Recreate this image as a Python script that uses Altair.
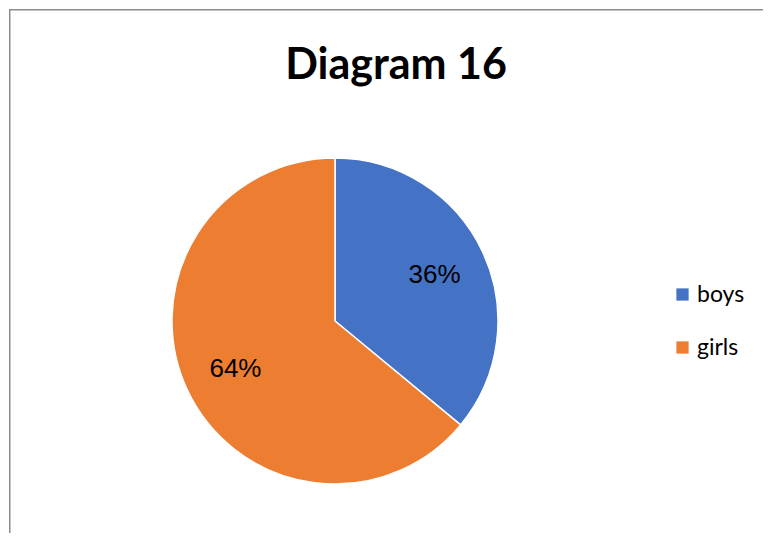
import altair as alt
import pandas as pd

categories = ["boys", "girls"]
shares = [36, 64]
labels = ["36%", "64%"]
colors = ["#4472C4", "#ED7D31"]
title_text = ["Diagram 16"]

W, H = 755, 525
CX, CY, R = 326, 312, 163

df = pd.DataFrame({"gender": categories, "share": shares, "label": labels})

color_enc = alt.Color(
    "gender:N",
    scale=alt.Scale(domain=categories, range=colors),
    legend=alt.Legend(
        title=None, orient="none", legendX=662, legendY=274,
        symbolType="square", symbolSize=150, symbolStrokeWidth=0,
        labelFontSize=23, labelFont="Lato", labelColor="black",
        rowPadding=29, labelOffset=3,
    ),
)

base = alt.Chart(df).encode(
    theta=alt.Theta("share:Q", stack=True),
    order=alt.Order("gender:N", sort="ascending"),
)

pie = base.mark_arc(radius=R, stroke="white", strokeWidth=1.5).encode(
    color=color_enc, x=alt.value(CX), y=alt.value(CY)
)

text = base.mark_text(radius=110, fontSize=26, font="Liberation Sans", color="black").encode(
    text="label:N", detail="gender:N", x=alt.value(CX), y=alt.value(CY + 1)
)

frame_df = pd.DataFrame({"k": [0]})
left_rule = alt.Chart(frame_df).mark_rule(color="#8c8c8c", strokeWidth=1.5).encode(
    x=alt.value(0.75), y=alt.value(0), y2=alt.value(H)
)
top_rule = alt.Chart(frame_df).mark_rule(color="#8c8c8c", strokeWidth=1.5).encode(
    x=alt.value(0), x2=alt.value(W), y=alt.value(0.75)
)

title = alt.Chart(pd.DataFrame({"t": title_text})).mark_text(
    fontSize=43, font="Lato", fontWeight="bold", color="black", baseline="alphabetic"
).encode(text="t:N", x=alt.value(387), y=alt.value(70))

chart = alt.layer(left_rule, top_rule, pie, text, title).properties(
    width=W, height=H, padding=0,
    autosize=alt.AutoSizeParams(type="fit", contains="padding"),
).configure_view(stroke=None)

chart.save("out.html", embed_options={"renderer": "svg", "actions": False})
